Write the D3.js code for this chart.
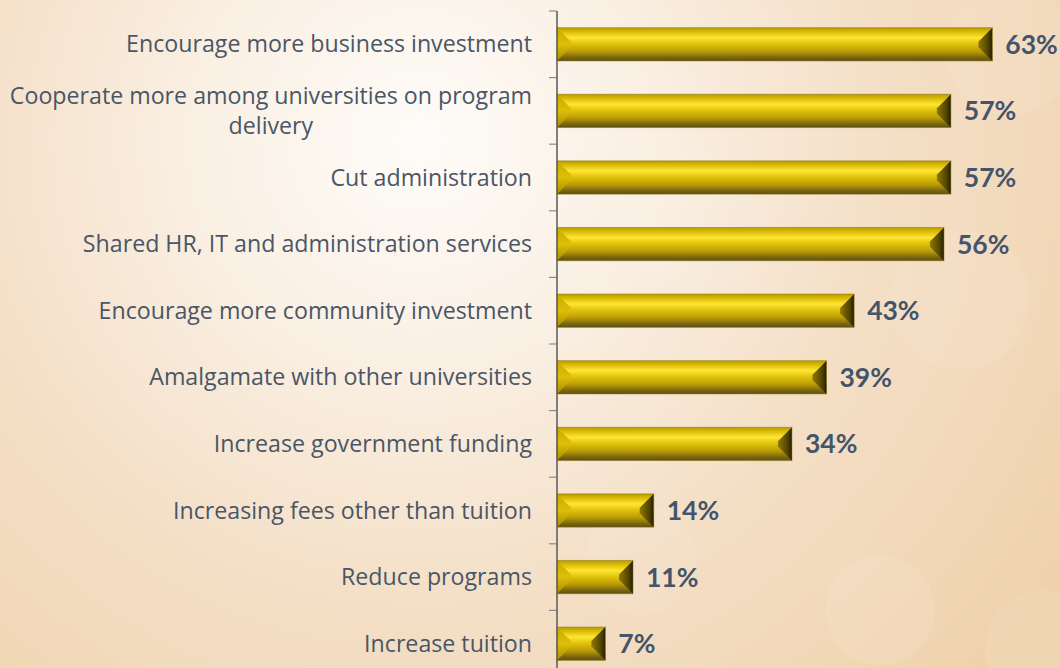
<!DOCTYPE html>
<html>
<head>
<meta charset="utf-8">
<script src="https://cdn.jsdelivr.net/npm/d3@7"></script>
<style>
  html, body { margin: 0; padding: 0; background: #f4e3cf; }
  svg { display: block; }
</style>
</head>
<body>
<div id="chart"></div>
<script>
// chart data
var categories = [
  "Encourage more business investment",
  "Cooperate more among universities on program|delivery",
  "Cut administration",
  "Shared HR, IT and administration services",
  "Encourage more community investment",
  "Amalgamate with other universities",
  "Increase government funding",
  "Increasing fees other than tuition",
  "Reduce programs",
  "Increase tuition"
];
var values = [63, 57, 57, 56, 43, 39, 34, 14, 11, 7];
var valueLabels = ["63%", "57%", "57%", "56%", "43%", "39%", "34%", "14%", "11%", "7%"];

var W = 1060, H = 668;
var axisX = 557;

var svg = d3.select("#chart").append("svg")
    .attr("width", W)
    .attr("height", H);

var defs = svg.append("defs");

// background glow
var bg = defs.append("radialGradient").attr("id", "bgGrad")
    .attr("gradientUnits", "userSpaceOnUse")
    .attr("cx", 420).attr("cy", 140).attr("r", 780);
bg.append("stop").attr("offset", "0").attr("stop-color", "#fefcf9");
bg.append("stop").attr("offset", "0.28").attr("stop-color", "#faf0e4");
bg.append("stop").attr("offset", "0.6").attr("stop-color", "#f4dfc6");
bg.append("stop").attr("offset", "1").attr("stop-color", "#efd2ac");

svg.append("rect").attr("width", W).attr("height", H).attr("fill", "url(#bgGrad)");

// faint bokeh circles
var bokeh = [[1010, 50, 65], [700, 220, 70], [880, 610, 55], [1045, 650, 60], [640, 560, 55], [960, 300, 70]];
svg.selectAll("circle.bokeh").data(bokeh).enter().append("circle")
    .attr("class", "bokeh")
    .attr("cx", d => d[0]).attr("cy", d => d[1]).attr("r", d => d[2])
    .attr("fill", "#ffffff").attr("opacity", 0.08);

// bar gradients
var face = defs.append("linearGradient").attr("id", "faceGrad")
    .attr("x1", 0).attr("y1", 0).attr("x2", 0).attr("y2", 1);
face.append("stop").attr("offset", "0").attr("stop-color", "#b89a00");
face.append("stop").attr("offset", "0.12").attr("stop-color", "#d9bb05");
face.append("stop").attr("offset", "0.3").attr("stop-color", "#ffe534");
face.append("stop").attr("offset", "0.48").attr("stop-color", "#e2c40c");
face.append("stop").attr("offset", "0.72").attr("stop-color", "#b89a06");
face.append("stop").attr("offset", "0.88").attr("stop-color", "#7f6a10");
face.append("stop").attr("offset", "1").attr("stop-color", "#5e4e10");

var leftG = defs.append("linearGradient").attr("id", "leftGrad")
    .attr("x1", 0).attr("y1", 0).attr("x2", 0).attr("y2", 1);
leftG.append("stop").attr("offset", "0").attr("stop-color", "#c9aa00");
leftG.append("stop").attr("offset", "0.5").attr("stop-color", "#ddbe08");
leftG.append("stop").attr("offset", "1").attr("stop-color", "#a88b00");

var rightG = defs.append("linearGradient").attr("id", "rightGrad")
    .attr("x1", 0).attr("y1", 0).attr("x2", 1).attr("y2", 0);
rightG.append("stop").attr("offset", "0").attr("stop-color", "#8f7800");
rightG.append("stop").attr("offset", "0.7").attr("stop-color", "#4f4200");
rightG.append("stop").attr("offset", "1").attr("stop-color", "#221c00");

// scales
var x = d3.scaleLinear().domain([0, 100]).range([axisX, axisX + 691]);
var y = d3.scaleBand().domain(categories).range([11, 677])
    .paddingInner(0.5).paddingOuter(0.25);

// bars
var bev = 14;
var bars = svg.selectAll("g.bar").data(values).enter().append("g").attr("class", "bar");

bars.append("rect")
    .attr("x", x(0))
    .attr("y", (d, i) => y(categories[i]))
    .attr("width", d => x(d) - x(0))
    .attr("height", y.bandwidth())
    .attr("fill", "url(#faceGrad)");

bars.append("path")
    .attr("d", function (d, i) {
      var x0 = x(0), y0 = y(categories[i]), y1 = y0 + y.bandwidth();
      var b = Math.min(bev, (x(d) - x0) / 2);
      return "M" + x0 + "," + y0 + "L" + (x0 + b) + "," + (y0 + b) +
        "L" + (x0 + b) + "," + (y1 - b) + "L" + x0 + "," + y1 + "Z";
    })
    .attr("fill", "url(#leftGrad)");

bars.append("path")
    .attr("d", function (d, i) {
      var x0 = x(0), x1 = x(d), y0 = y(categories[i]), y1 = y0 + y.bandwidth();
      var b = Math.min(bev, (x1 - x0) / 2);
      return "M" + x1 + "," + y0 + "L" + (x1 - b) + "," + (y0 + b) +
        "L" + (x1 - b) + "," + (y1 - b) + "L" + x1 + "," + y1 + "Z";
    })
    .attr("fill", "url(#rightGrad)");

bars.append("rect")
    .attr("x", x(0))
    .attr("y", (d, i) => y(categories[i]))
    .attr("width", d => x(d) - x(0))
    .attr("height", y.bandwidth())
    .attr("fill", "none")
    .attr("stroke", "#8a7410")
    .attr("stroke-opacity", 0.5)
    .attr("stroke-width", 1);

// value labels
svg.selectAll("text.val").data(values).enter().append("text")
    .attr("class", "val")
    .attr("x", d => x(d) + 13)
    .attr("y", (d, i) => y(categories[i]) + y.bandwidth() / 2)
    .attr("dy", "0.36em")
    .attr("font-family", "Lato, 'Open Sans', sans-serif")
    .attr("font-weight", "bold")
    .attr("font-size", "26.5px")
    .attr("fill", "#44546a")
    .text((d, i) => valueLabels[i]);

// category axis
var step = y.step();
var tickYs = d3.range(categories.length + 1).map(i => 11 + i * step);
svg.selectAll("line.tick").data(tickYs).enter().append("line")
    .attr("class", "tick")
    .attr("x1", axisX - 8).attr("x2", axisX)
    .attr("y1", d => d).attr("y2", d => d)
    .attr("stroke", "#8c8c8c").attr("stroke-width", 1.2);

svg.append("line")
    .attr("x1", axisX).attr("x2", axisX)
    .attr("y1", 11).attr("y2", 677)
    .attr("stroke", "#5a5a5a").attr("stroke-width", 1.5);

// category labels
var labelRight = 532;
var lineH = 30;
categories.forEach(function (c, i) {
  var lines = c.split("|");
  var cy = y(c) + y.bandwidth() / 2;
  var t = svg.append("text")
      .attr("font-family", "'Open Sans', sans-serif")
      .attr("font-size", "23.2px")
      .attr("fill", "#4a5666");
  lines.forEach(function (ln, k) {
    t.append("tspan").attr("y", cy + (k - (lines.length - 1) / 2) * lineH).attr("dy", "0.35em").text(ln);
  });
  if (lines.length === 1) {
    t.attr("text-anchor", "end").selectAll("tspan").attr("x", labelRight);
  } else {
    var widths = [];
    t.selectAll("tspan").each(function () { widths.push(this.getComputedTextLength()); });
    var mid = labelRight - d3.max(widths) / 2;
    t.attr("text-anchor", "middle").selectAll("tspan").attr("x", mid);
  }
});
</script>
</body>
</html>
